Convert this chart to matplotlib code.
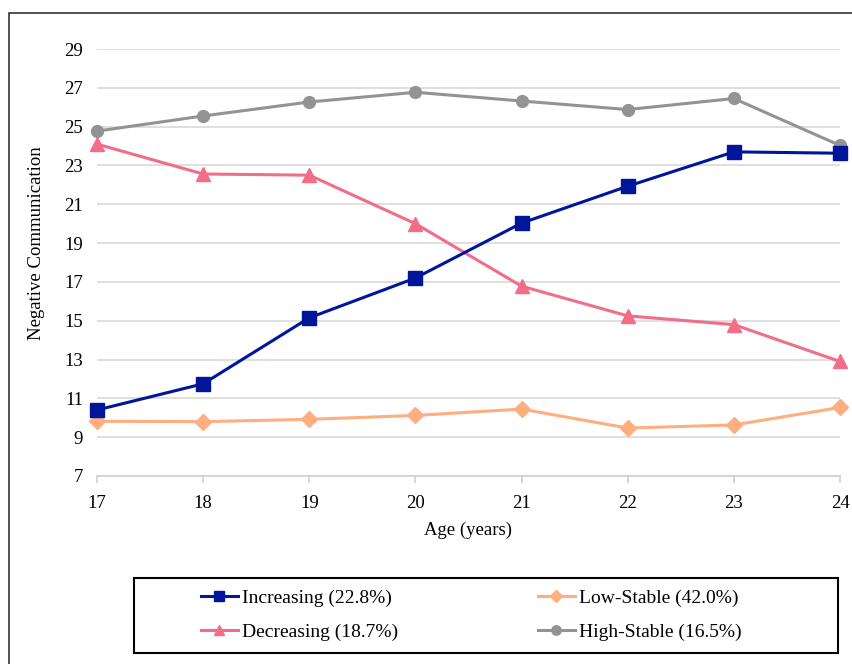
import matplotlib
matplotlib.use("Agg")
import matplotlib.pyplot as plt
from matplotlib.patches import Rectangle

plt.rcParams['font.family'] = ['Liberation Serif', 'DejaVu Serif']

# donnees
ages = [17, 18, 19, 20, 21, 22, 23, 24]
increasing = [10.4, 11.75, 15.15, 17.2, 20.03, 21.93, 23.7, 23.63]
low_stable = [9.82, 9.8, 9.92, 10.12, 10.45, 9.47, 9.63, 10.53]
decreasing = [24.1, 22.56, 22.5, 20.0, 16.78, 15.25, 14.8, 12.9]
high_stable = [24.77, 25.55, 26.27, 26.77, 26.32, 25.88, 26.45, 24.03]

labels = ["Increasing (22.8%)", "Low-Stable (42.0%)",
          "Decreasing (18.7%)", "High-Stable (16.5%)"]
yticks = [7, 9, 11, 13, 15, 17, 19, 21, 23, 25, 27, 29]

W, H = 853, 664
fig = plt.figure(figsize=(W / 100, H / 100), dpi=100)
ax = fig.add_axes([97 / W, 1 - 476 / H, (840 - 97) / W, (476 - 49) / H])

l1, = ax.plot(ages, increasing, color="#00169A", lw=2.2, marker="s", ms=9.5, clip_on=False, zorder=5)
l2, = ax.plot(ages, low_stable, color="#FFAE80", lw=2.2, marker="D", ms=8, clip_on=False, zorder=4)
l3, = ax.plot(ages, decreasing, color="#F26D88", lw=2.2, marker="^", ms=9.5, clip_on=False, zorder=4)
l4, = ax.plot(ages, high_stable, color="#939393", lw=2.2, marker="o", ms=8.5, clip_on=False, zorder=4)

ax.set_xlim(17, 24)
ax.set_ylim(7, 29)
ax.set_yticks(yticks)
ax.set_xticks(ages)
ax.grid(axis="y", color="#D9D9D9", lw=1.2)
ax.set_axisbelow(True)
for s in ["left", "right", "top"]:
    ax.spines[s].set_visible(False)
ax.spines["bottom"].set_color("#D0D0D0")
ax.spines["bottom"].set_linewidth(1.2)
ax.tick_params(axis="y", length=0, pad=10, labelsize=13.5)
ax.tick_params(axis="x", length=5, color="#D0D0D0", width=1.2, pad=9, labelsize=13.5)
ax.set_xlabel("Age (years)", fontsize=13.5, labelpad=7)
ax.set_ylabel("Negative Communication", fontsize=13.5)
ax.yaxis.set_label_coords(-0.07, 0.545)

# cadre exterieur
fig.patches.append(Rectangle((9 / W, -0.2), 1.2, 1.2 - 13 / H, transform=fig.transFigure,
                             fill=False, ec="#333333", lw=1.2))
# cadre de la legende
fig.patches.append(Rectangle((134 / W, 1 - 653 / H), (838 - 134) / W, (653 - 578) / H,
                             transform=fig.transFigure, fill=False, ec="black", lw=1.5))

# ordre: ligne 1 = Increasing, Low-Stable ; ligne 2 = Decreasing, High-Stable
fig.legend([l1, l3, l2, l4], [labels[0], labels[2], labels[1], labels[3]], ncol=2, loc="center",
           bbox_to_anchor=(471 / W, 1 - 615 / H), frameon=False, fontsize=14,
           handlelength=1.9, handletextpad=0.2, columnspacing=7.2, labelspacing=0.85,
           markerscale=0.8)

fig.savefig("out.png", dpi=100)
